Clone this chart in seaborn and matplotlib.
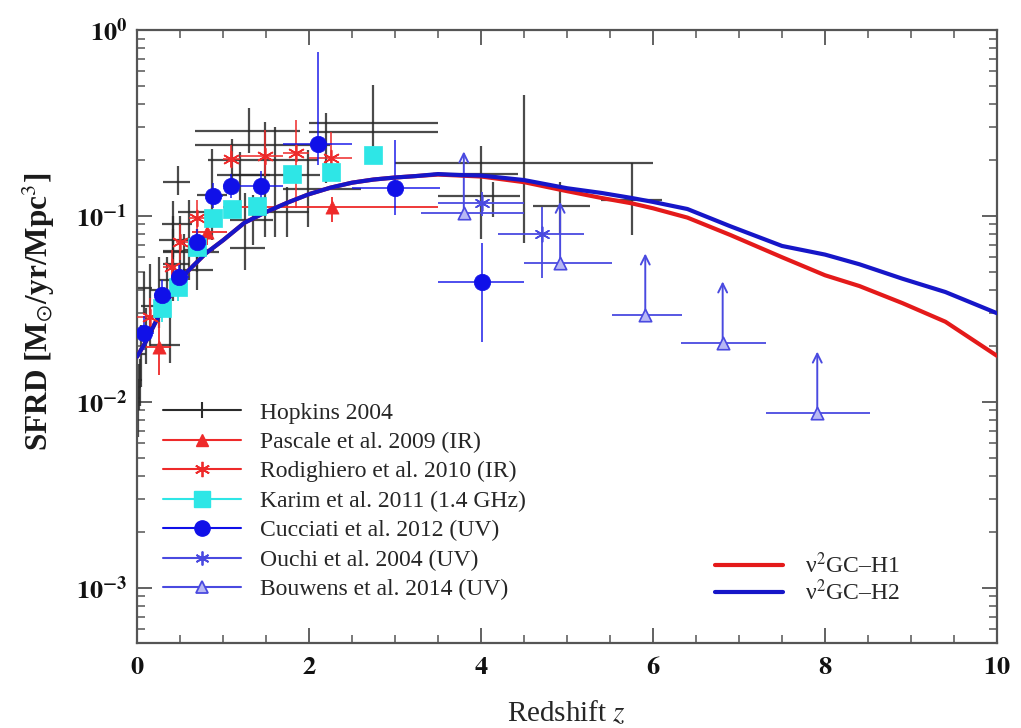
import numpy as np
import pandas as pd
import matplotlib
matplotlib.use("Agg")
import matplotlib.pyplot as plt
import seaborn as sns
from matplotlib.lines import Line2D
from matplotlib.ticker import FixedLocator, FuncFormatter, MultipleLocator, NullFormatter

# ---------------- model predictions ----------------
model_z = [0.0, 0.1, 0.2, 0.3, 0.4, 0.5, 0.6, 0.8, 1.0, 1.25, 1.5, 1.75, 2.0, 2.25, 2.5,
           2.75, 3.0, 3.25, 3.5, 3.75, 4.0, 4.5, 5.0, 5.4, 5.75, 6.0, 6.4, 6.9, 7.5,
           8.0, 8.4, 8.9, 9.4, 10.0]
h1_sfrd = [0.0175, 0.021, 0.026, 0.032, 0.038, 0.045, 0.051, 0.063, 0.074, 0.092, 0.105,
           0.118, 0.131, 0.142, 0.151, 0.157, 0.161, 0.164, 0.167, 0.165, 0.163, 0.152,
           0.136, 0.125, 0.117, 0.110, 0.098, 0.079, 0.060, 0.048, 0.042, 0.034, 0.027, 0.0177]
h2_sfrd = [0.0175, 0.021, 0.026, 0.032, 0.038, 0.045, 0.051, 0.063, 0.074, 0.092, 0.105,
           0.118, 0.131, 0.142, 0.151, 0.157, 0.161, 0.164, 0.168, 0.166, 0.165, 0.156,
           0.141, 0.133, 0.125, 0.119, 0.109, 0.088, 0.069, 0.062, 0.055, 0.046, 0.039, 0.030]

# ---------------- Hopkins 2004 compilation ----------------
hop_z   = [0.01, 0.02, 0.03, 0.05, 0.08, 0.10, 0.15, 0.38, 0.25, 0.35, 0.48, 0.42, 0.42, 0.50,
           0.60, 0.70, 0.55, 0.70, 0.42, 1.26, 1.35, 1.74, 1.99, 1.20, 1.10, 1.30, 1.49, 1.60,
           0.87, 2.20, 2.74, 4.00, 4.50, 5.76, 4.14, 4.92]
hop_sfrd = [0.0105, 0.012, 0.0131, 0.018, 0.041, 0.024, 0.033, 0.0202, 0.040, 0.045, 0.152,
            0.055, 0.090, 0.074, 0.105, 0.066, 0.064, 0.051, 0.065, 0.067, 0.095, 0.105,
            0.140, 0.166, 0.200, 0.286, 0.241, 0.166, 0.130, 0.283, 0.316, 0.168, 0.193,
            0.122, 0.128, 0.113]
hop_zlo = [0.0, 0.0, 0.0, 0.0, 0.0, 0.02, 0.05, 0.15, 0.15, 0.25, 0.30, 0.30, 0.29, 0.25,
           0.48, 0.55, 0.30, 0.53, 0.30, 1.08, 1.08, 1.50, 1.70, 0.93, 0.83, 0.67, 0.67, 1.08,
           0.70, 2.00, 2.00, 3.44, 3.00, 5.40, 3.50, 4.60]
hop_zhi = [0.03, 0.05, 0.06, 0.10, 0.18, 0.20, 0.30, 0.50, 0.35, 0.45, 0.62, 0.60, 0.64, 0.70,
           0.80, 0.90, 0.95, 0.88, 0.55, 1.49, 1.58, 2.00, 2.60, 1.55, 2.10, 1.90, 2.24, 2.13,
           1.05, 3.50, 3.50, 4.43, 6.00, 6.10, 4.45, 5.27]
hop_lo  = [0.0065, 0.009, 0.0095, 0.012, 0.030, 0.016, 0.020, 0.0162, 0.025, 0.030, 0.130,
           0.035, 0.060, 0.050, 0.045, 0.050, 0.050, 0.040, 0.039, 0.051, 0.070, 0.077,
           0.087, 0.120, 0.150, 0.218, 0.077, 0.077, 0.074, 0.150, 0.190, 0.075, 0.0716,
           0.079, 0.099, 0.080]
hop_hi  = [0.013, 0.016, 0.017, 0.026, 0.050, 0.032, 0.055, 0.035, 0.060, 0.060, 0.185,
           0.085, 0.120, 0.100, 0.122, 0.085, 0.080, 0.065, 0.100, 0.133, 0.130, 0.143,
           0.226, 0.220, 0.260, 0.381, 0.320, 0.300, 0.230, 0.358, 0.506, 0.238, 0.447,
           0.193, 0.153, 0.153]

# ---------------- Pascale et al. 2009 (IR) ----------------
pas_z = [0.25, 0.81, 2.27]
pas_sfrd = [0.0198, 0.082, 0.112]
pas_zlo = [0.10, 0.64, 1.00]
pas_zhi = [0.40, 1.05, 3.50]
pas_lo = [0.014, 0.070, 0.093]
pas_hi = [0.027, 0.100, 0.126]

# ---------------- Rodighiero et al. 2010 (IR) ----------------
rod_z = [0.15, 0.41, 0.50, 0.70, 1.09, 1.49, 1.85, 2.26]
rod_sfrd = [0.0286, 0.053, 0.0724, 0.0975, 0.202, 0.210, 0.218, 0.205]
rod_zlo = [0.00, 0.30, 0.45, 0.60, 1.00, 1.20, 1.70, 2.00]
rod_zhi = [0.30, 0.45, 0.60, 0.80, 1.20, 1.70, 2.00, 2.50]
rod_lo = [0.022, 0.042, 0.058, 0.078, 0.183, 0.165, 0.110, 0.183]
rod_hi = [0.036, 0.066, 0.090, 0.122, 0.240, 0.290, 0.330, 0.283]

# ---------------- Karim et al. 2011 (1.4 GHz) ----------------
kar_z = [0.29, 0.48, 0.70, 0.88, 1.10, 1.39, 1.80, 2.26, 2.74]
kar_sfrd = [0.032, 0.0415, 0.068, 0.0975, 0.109, 0.113, 0.168, 0.172, 0.213]
kar_lo = [0.027, 0.035, 0.060, 0.088, 0.099, 0.102, 0.152, 0.156, 0.190]
kar_hi = [0.038, 0.049, 0.077, 0.108, 0.120, 0.125, 0.186, 0.190, 0.238]

# ---------------- Cucciati et al. 2012 (UV) ----------------
cuc_z = [0.08, 0.29, 0.49, 0.70, 0.88, 1.09, 1.44, 2.10, 3.00, 4.01]
cuc_sfrd = [0.0235, 0.0376, 0.047, 0.0724, 0.128, 0.145, 0.145, 0.244, 0.1415, 0.0442]
cuc_zlo = [0.05, 0.20, 0.40, 0.60, 0.80, 1.00, 1.20, 1.70, 2.50, 3.50]
cuc_zhi = [0.20, 0.40, 0.60, 0.80, 1.00, 1.20, 1.70, 2.50, 3.52, 4.50]
cuc_lo = [0.019, 0.031, 0.040, 0.062, 0.110, 0.125, 0.120, 0.188, 0.101, 0.021]
cuc_hi = [0.029, 0.045, 0.056, 0.085, 0.150, 0.168, 0.175, 0.760, 0.256, 0.0716]

# ---------------- Ouchi et al. 2004 (UV) ----------------
ouc_z = [4.01, 4.71]
ouc_sfrd = [0.117, 0.080]
ouc_zlo = [3.50, 4.20]
ouc_zhi = [4.50, 5.20]
ouc_lo = [0.100, 0.0464]
ouc_hi = [0.135, 0.112]

# ---------------- Bouwens et al. 2014 (UV), lower limits ----------------
bou_z = [3.80, 4.92, 5.91, 6.81, 7.91]
bou_sfrd = [0.104, 0.0558, 0.0294, 0.0208, 0.00873]
bou_zlo = [3.30, 4.50, 5.52, 6.33, 7.31]
bou_zhi = [4.50, 5.52, 6.34, 7.31, 8.52]
arrow_dex = 0.33

# ---------------- colours ----------------
c_hop = "#2b2b2b"
c_red = "#ee2a2a"
c_cyan = "#2ee6e6"
c_blue = "#1010e8"
c_lblue = "#4a4ae0"
c_h1 = "#e41a1a"
c_h2 = "#1616c8"

sns.set_theme(style="ticks")
plt.rcParams["font.family"] = ["Liberation Serif", "DejaVu Serif"]
plt.rcParams["mathtext.fontset"] = "stix"

fig = plt.figure(figsize=(10.21, 7.28), dpi=100)
ax = fig.add_axes([0.1342, 0.1168, 0.8423, 0.842])


def bars(z, v, zlo, zhi, lo, hi, color, lw, alpha=1.0, zorder=2):
    z = np.asarray(z); v = np.asarray(v)
    xerr = [z - np.asarray(zlo), np.asarray(zhi) - z]
    yerr = [v - np.asarray(lo), np.asarray(hi) - v]
    ax.errorbar(z, v, xerr=xerr, yerr=yerr, fmt="none", ecolor=color,
                elinewidth=lw, capsize=0, alpha=alpha, zorder=zorder)


# Hopkins compilation: plain crosses
bars(hop_z, hop_sfrd, hop_zlo, hop_zhi, hop_lo, hop_hi, c_hop, 1.6, alpha=0.85, zorder=2)

# IR / radio / UV datasets
bars(pas_z, pas_sfrd, pas_zlo, pas_zhi, pas_lo, pas_hi, c_red, 1.3, zorder=3)
bars(rod_z, rod_sfrd, rod_zlo, rod_zhi, rod_lo, rod_hi, c_red, 1.3, alpha=0.85, zorder=3)
bars(kar_z, kar_sfrd, kar_z, kar_z, kar_lo, kar_hi, c_cyan, 1.3, zorder=3)
bars(cuc_z, cuc_sfrd, cuc_zlo, cuc_zhi, cuc_lo, cuc_hi, c_blue, 1.3, alpha=0.8, zorder=3)
bars(ouc_z, ouc_sfrd, ouc_zlo, ouc_zhi, ouc_lo, ouc_hi, c_lblue, 1.3, zorder=3)
bars(bou_z, bou_sfrd, bou_zlo, bou_zhi, bou_sfrd, bou_sfrd, c_lblue, 1.3, zorder=3)

# Bouwens lower-limit arrows
for zz, vv in zip(bou_z, bou_sfrd):
    ax.annotate("", xy=(zz, vv * 10 ** arrow_dex), xytext=(zz, vv),
                arrowprops=dict(arrowstyle="->", color=c_lblue, lw=1.4,
                                mutation_scale=16, shrinkA=0, shrinkB=0), zorder=3)

# model curves
models = pd.DataFrame({
    "z": model_z * 2,
    "sfrd": h1_sfrd + h2_sfrd,
    "model": ["ν$^2$GC–H1"] * len(model_z) + ["ν$^2$GC–H2"] * len(model_z),
})
sns.lineplot(data=models, x="z", y="sfrd", hue="model", palette=[c_h1, c_h2],
             linewidth=3.0, ax=ax, legend=False, zorder=4, sort=False)

# markers
sns.scatterplot(x=pas_z, y=pas_sfrd, marker="^", s=90, color=c_red, edgecolor=c_red,
                linewidth=0.5, ax=ax, zorder=5)
sns.scatterplot(x=rod_z, y=rod_sfrd, marker=(6, 2, 0), s=130, color=c_red,
                linewidth=1.2, ax=ax, zorder=5)
sns.scatterplot(x=kar_z, y=kar_sfrd, marker="s", s=150, color=c_cyan, edgecolor=c_cyan,
                linewidth=0.5, ax=ax, zorder=5)
sns.scatterplot(x=cuc_z, y=cuc_sfrd, marker="o", s=140, color=c_blue, edgecolor=c_blue,
                linewidth=0.5, ax=ax, zorder=6)
sns.scatterplot(x=ouc_z, y=ouc_sfrd, marker=(6, 2, 0), s=110, color=c_lblue,
                linewidth=1.2, ax=ax, zorder=5)
sns.scatterplot(x=bou_z, y=bou_sfrd, marker="^", s=80, color="#b8b8f4", edgecolor=c_lblue,
                linewidth=1.2, ax=ax, zorder=5)

# axes
ax.set_yscale("log")
ax.set_xlim(0, 10)
ax.set_ylim(5.06e-4, 1.0)
ax.xaxis.set_major_locator(MultipleLocator(2))
ax.xaxis.set_minor_locator(MultipleLocator(0.5))
ax.xaxis.set_major_formatter(FuncFormatter(lambda v, p: r"$\mathbf{%d}$" % round(v)))
major_y = [1e-3, 1e-2, 1e-1, 1e0]
ax.yaxis.set_major_locator(FixedLocator(major_y))
minor_y = [m * 10.0 ** e for e in range(-4, 0) for m in range(2, 10)]
ax.yaxis.set_minor_locator(FixedLocator(minor_y))
ax.yaxis.set_minor_formatter(NullFormatter())
ax.yaxis.set_major_formatter(FuncFormatter(
    lambda v, p: r"$\mathbf{10^{%d}}$" % round(np.log10(v))))

ax.tick_params(which="both", direction="in", top=True, right=True, colors="#555555",
               labelcolor="#111111")
ax.tick_params(which="major", length=11, width=1.3, labelsize=19)
ax.tick_params(which="minor", length=6, width=1.1)
ax.tick_params(axis="x", which="major", pad=10)
ax.tick_params(axis="y", which="major", pad=7)
for s in ax.spines.values():
    s.set_color("#555555")
    s.set_linewidth(1.6)

ax.set_xlabel("Redshift $z$", fontsize=21, labelpad=15)
ax.set_ylabel(r"SFRD [M$_{\odot}$/yr/Mpc$^{3}$]", fontsize=22.5, fontweight="bold",
              color="#1a1a1a")
ax.yaxis.set_label_coords(-0.093, 0.54)

# legends
obs_handles = [
    Line2D([], [], color=c_hop, lw=1.5, marker="|", markersize=11, markeredgewidth=1.5),
    Line2D([], [], color=c_red, lw=1.5, marker="^", markersize=9),
    Line2D([], [], color=c_red, lw=1.5, marker=(6, 2, 0), markersize=11, markeredgewidth=1.3),
    Line2D([], [], color=c_cyan, lw=1.5, marker="s", markersize=11),
    Line2D([], [], color=c_blue, lw=1.5, marker="o", markersize=11),
    Line2D([], [], color=c_lblue, lw=1.5, marker=(6, 2, 0), markersize=10, markeredgewidth=1.3),
    Line2D([], [], color=c_lblue, lw=1.5, marker="^", markersize=8,
           markerfacecolor="#b8b8f4", markeredgewidth=1.3),
]
obs_labels = ["Hopkins 2004", "Pascale et al. 2009 (IR)", "Rodighiero et al. 2010 (IR)",
              "Karim et al. 2011 (1.4 GHz)", "Cucciati et al. 2012 (UV)",
              "Ouchi et al. 2004 (UV)", "Bouwens et al. 2014 (UV)"]
leg1 = ax.legend(obs_handles, obs_labels, loc="upper left", bbox_to_anchor=(0.03, 0.393),
                 frameon=False, fontsize=17, handlelength=3.3, handletextpad=0.8,
                 labelspacing=0.335, borderpad=0, borderaxespad=0)
ax.add_artist(leg1)

mod_handles = [Line2D([], [], color=c_h1, lw=3.0), Line2D([], [], color=c_h2, lw=3.0)]
ax.legend(mod_handles, ["ν$^2$GC–H1", "ν$^2$GC–H2"], loc="upper left",
          bbox_to_anchor=(0.672, 0.147), frameon=False, fontsize=17, handlelength=2.9,
          handletextpad=0.9, labelspacing=0.05, borderpad=0, borderaxespad=0)

fig.savefig("out.png", dpi=100)
